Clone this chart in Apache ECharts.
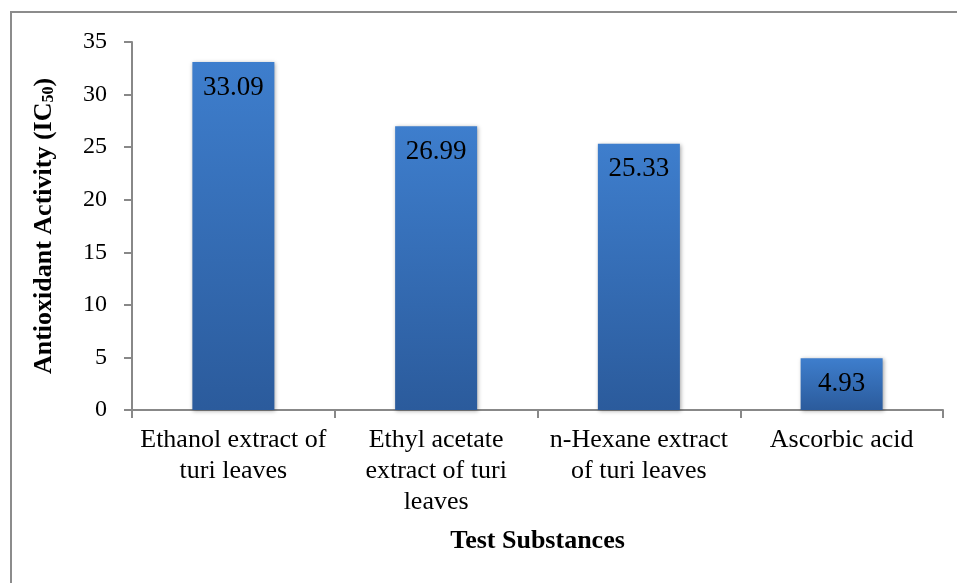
<!DOCTYPE html>
<html>
<head>
<meta charset="utf-8">
<script src="https://cdn.jsdelivr.net/npm/echarts@6/dist/echarts.min.js"></script>
<style>
  html, body { margin: 0; padding: 0; background: #fff; }
  #chart { width: 957px; height: 583px; }
</style>
</head>
<body>
<div id="chart"></div>
<script>
const categories = [
  "Ethanol extract of\nturi leaves",
  "Ethyl acetate\nextract of turi\nleaves",
  "n-Hexane extract\nof turi leaves",
  "Ascorbic acid"
];
const ic50Values = [33.09, 26.99, 25.33, 4.93];

const chart = echarts.init(document.getElementById("chart"));
const serif = "'Liberation Serif', 'Times New Roman', serif";

const option = {
  animation: false,
  backgroundColor: "#fff",
  textStyle: { fontFamily: serif },
  grid: { left: 132, right: 14, top: 42, bottom: 173 },
  graphic: [
    {
      type: "rect",
      shape: { x: 11, y: 12, width: 1000, height: 1000 },
      style: { fill: "none", stroke: "#8c8c8c", lineWidth: 2 },
      z: -1
    }
  ],
  xAxis: {
    type: "category",
    data: categories,
    name: "Test Substances",
    nameLocation: "middle",
    nameGap: 118,
    nameTextStyle: { fontFamily: serif, fontSize: 26, fontWeight: "bold", color: "#000" },
    axisLine: { lineStyle: { color: "#888", width: 2 } },
    axisTick: { show: true, length: 8, lineStyle: { color: "#888", width: 2 } },
    axisLabel: {
      interval: 0,
      fontFamily: serif,
      fontSize: 26,
      color: "#000",
      lineHeight: 31,
      margin: 15
    }
  },
  yAxis: {
    type: "value",
    min: 0,
    max: 35,
    interval: 5,
    name: "{b|Antioxidant Activity (IC}{s|50}{b|)}",
    nameLocation: "middle",
    nameRotate: 90,
    nameGap: 75,
    nameTextStyle: {
      rich: {
        b: { fontFamily: serif, fontSize: 26, fontWeight: "bold", color: "#000" },
        s: { fontFamily: serif, fontSize: 16, fontWeight: "bold", color: "#000", verticalAlign: "bottom", padding: [10, 0, 0, 0] }
      }
    },
    splitLine: { show: false },
    axisLine: { show: true, lineStyle: { color: "#888", width: 2 } },
    axisTick: { show: true, length: 8, lineStyle: { color: "#888", width: 2 } },
    axisLabel: { fontFamily: serif, fontSize: 24, color: "#000", margin: 25 }
  },
  series: [
    {
      type: "bar",
      data: ic50Values,
      barWidth: 82,
      itemStyle: {
        color: new echarts.graphic.LinearGradient(0, 0, 0, 1, [
          { offset: 0, color: "#3e7ecd" },
          { offset: 1, color: "#2b5b9c" }
        ]),
        shadowColor: "rgba(0,0,0,0.35)",
        shadowBlur: 4,
        shadowOffsetX: 1,
        shadowOffsetY: 1
      },
      label: {
        show: true,
        position: "insideTop",
        distance: 12,
        fontFamily: serif,
        fontSize: 27,
        color: "#000",
        formatter: p => p.value.toFixed(2)
      }
    }
  ]
};

chart.setOption(option);
</script>
</body>
</html>
